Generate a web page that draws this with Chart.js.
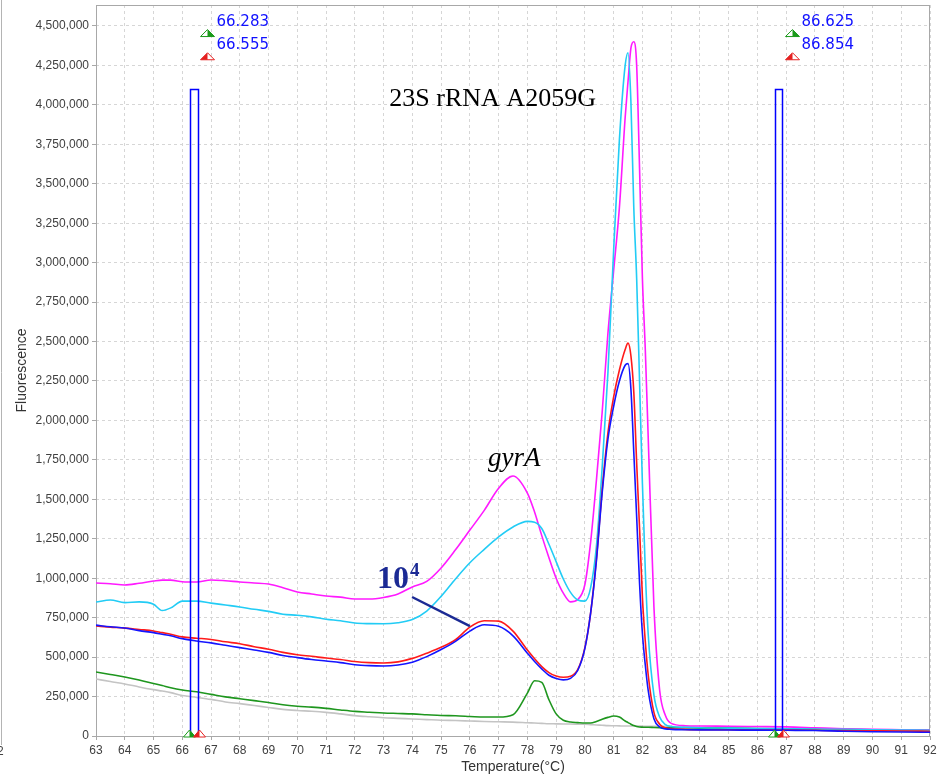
<!DOCTYPE html>
<html>
<head>
<meta charset="utf-8">
<script src="https://cdn.jsdelivr.net/npm/chart.js@4.4.1/dist/chart.umd.min.js"></script>
<style>
html, body { margin: 0; padding: 0; background: #fff; }
#wrap { width: 942px; height: 781px; }
</style>
</head>
<body>
<div id="wrap"><canvas id="meltChart" width="942" height="781"></canvas></div>
<script>
// melt curve data (temperature in °C, fluorescence units)
const temps = [63, 63.5, 64, 64.5, 65, 65.3, 65.6, 66, 66.5, 67, 67.5, 68, 68.5, 69, 69.5, 70, 70.5, 71, 71.5, 72,
  72.5, 73, 73.5, 74, 74.5, 75, 75.5, 76, 76.5, 77, 77.5, 78, 78.25, 78.5, 78.75, 79, 79.25, 79.5, 79.75, 80,
  80.2, 80.4, 80.6, 80.8, 81, 81.2, 81.4, 81.5, 81.6, 81.7, 81.8, 81.9, 82, 82.1, 82.2, 82.4, 82.6, 82.8, 83, 83.5,
  84, 85, 86, 87, 88, 89, 90, 91, 92];

const magentaVals = [970000, 965000, 957000, 968000, 982000, 988000, 988000, 978000, 976000, 989000, 984000, 976000, 970000, 963000, 940000, 913000, 900000, 887000, 880000, 868000,
  868000, 878000, 900000, 945000, 980000, 1065000, 1180000, 1305000, 1430000, 1570000, 1648000, 1540000, 1420000, 1270000, 1130000, 1000000, 905000, 850000, 865000, 960000,
  1230000, 1620000, 2050000, 2550000, 2950000, 3350000, 3920000, 4150000, 4360000, 4400000, 4250000, 3600000, 2900000, 2450000, 1900000, 820000, 290000, 130000, 80000, 65000,
  63000, 62000, 60000, 58000, 52000, 46000, 42000, 40000, 38000];

const cyanVals = [849000, 862000, 845000, 850000, 835000, 795000, 812000, 855000, 855000, 842000, 830000, 818000, 803000, 790000, 772000, 765000, 755000, 740000, 730000, 716000,
  712000, 711000, 718000, 738000, 792000, 885000, 995000, 1098000, 1183000, 1262000, 1325000, 1360000, 1355000, 1315000, 1215000, 1105000, 995000, 910000, 862000, 855000,
  940000, 1200000, 1700000, 2300000, 3080000, 3780000, 4250000, 4330000, 4020000, 3350000, 2900000, 2250000, 1600000, 1050000, 650000, 260000, 120000, 72000, 60000, 55000,
  52000, 50000, 48000, 46000, 44000, 42000, 40000, 38000, 36000];

const redVals = [697000, 690000, 684000, 675000, 666000, 655000, 645000, 628000, 620000, 612000, 597000, 585000, 566000, 550000, 530000, 515000, 505000, 494000, 485000, 472000,
  465000, 463000, 470000, 492000, 525000, 562000, 610000, 690000, 730000, 728000, 665000, 545000, 490000, 440000, 402000, 380000, 372000, 378000, 420000, 560000,
  780000, 1120000, 1560000, 1920000, 2150000, 2320000, 2450000, 2490000, 2410000, 2180000, 1730000, 1320000, 880000, 600000, 390000, 150000, 75000, 52000, 46000, 42000,
  40000, 40000, 38000, 38000, 36000, 34000, 33000, 32000, 30000];

const blueVals = [703000, 692000, 684000, 668000, 655000, 645000, 635000, 617000, 602000, 590000, 575000, 560000, 545000, 530000, 510000, 497000, 485000, 475000, 465000, 452000,
  446000, 444000, 450000, 468000, 503000, 548000, 600000, 665000, 705000, 695000, 635000, 525000, 472000, 425000, 385000, 365000, 356000, 365000, 415000, 555000,
  780000, 1110000, 1540000, 1880000, 2090000, 2250000, 2350000, 2360000, 2200000, 1800000, 1390000, 970000, 650000, 450000, 290000, 110000, 57000, 45000, 42000, 40000,
  39000, 38000, 37000, 36000, 35000, 30000, 27000, 25000, 24000];

const greenVals = [406000, 390000, 374000, 355000, 333000, 320000, 306000, 292000, 280000, 264000, 248000, 236000, 224000, 212000, 198000, 189000, 183000, 175000, 165000, 156000,
  151000, 146000, 143000, 140000, 135000, 130000, 128000, 124000, 120000, 120000, 135000, 272000, 350000, 340000, 230000, 140000, 100000, 89000, 85000, 82000,
  82000, 92000, 106000, 118000, 127000, 120000, 95000, 85000, 75000, 66000, 60000, 57000, 56000, 55000, 55000, 54000, 53000, 52000, 52000, 52000,
  50000, 50000, 48000, 46000, 44000, 42000, 40000, 38000, 36000];

const grayVals = [361000, 345000, 330000, 311000, 294000, 285000, 275000, 257000, 245000, 232000, 216000, 205000, 193000, 181000, 169000, 162000, 157000, 150000, 140000, 129000,
  122000, 116000, 112000, 108000, 104000, 100000, 98000, 95000, 92000, 90000, 88000, 84000, 82000, 80000, 78000, 77000, 76000, 76000, 75000, 74000,
  72000, 70000, 68000, 66000, 65000, 64000, 63000, 63000, 63000, 63000, 63000, 63000, 62000, 62000, 62000, 62000, 62000, 61000, 60000, 56000,
  52000, 48000, 45000, 42000, 40000, 38000, 36000, 34000, 32000];

const xTicks = [63, 64, 65, 66, 67, 68, 69, 70, 71, 72, 73, 74, 75, 76, 77, 78, 79, 80, 81, 82, 83, 84, 85, 86, 87, 88, 89, 90, 91, 92];
const yTicks = [0, 250000, 500000, 750000, 1000000, 1250000, 1500000, 1750000, 2000000, 2250000, 2500000,
  2750000, 3000000, 3250000, 3500000, 3750000, 4000000, 4250000, 4500000];

// melt region markers (start / end), green and red
const startMarks = [66.283, 66.555];
const endMarks = [86.625, 86.854];
const markTop = 4100000;

function pts(vals) {
  return temps.map((t, i) => ({ x: t, y: vals[i] }));
}

function line(vals, color) {
  return {
    data: pts(vals),
    borderColor: color,
    borderWidth: 1.6,
    pointRadius: 0,
    fill: false,
    cubicInterpolationMode: 'monotone'
  };
}

// little half-filled triangle, like the marker flags of the instrument software
function flag(ctx, cx, by, w, h, color, leftFilled) {
  ctx.beginPath();
  ctx.moveTo(cx - w / 2, by); ctx.lineTo(cx + w / 2, by); ctx.lineTo(cx, by - h); ctx.closePath();
  ctx.fillStyle = '#fff'; ctx.fill();
  ctx.beginPath();
  if (leftFilled) {
    ctx.moveTo(cx - w / 2, by); ctx.lineTo(cx, by); ctx.lineTo(cx, by - h);
  } else {
    ctx.moveTo(cx + w / 2, by); ctx.lineTo(cx, by); ctx.lineTo(cx, by - h);
  }
  ctx.closePath();
  ctx.fillStyle = color; ctx.fill();
  ctx.beginPath();
  ctx.moveTo(cx - w / 2, by); ctx.lineTo(cx + w / 2, by); ctx.lineTo(cx, by - h); ctx.closePath();
  ctx.strokeStyle = color; ctx.lineWidth = 1; ctx.stroke();
}

const frame = {
  id: 'frame',
  beforeDatasetsDraw(chart) {
    const { ctx, chartArea: a } = chart;
    ctx.save();
    ctx.strokeStyle = '#a8a8a8';
    ctx.lineWidth = 1;
    ctx.strokeRect(a.left + 0.5, a.top + 0.5, a.right - a.left - 1, a.bottom - a.top);
    ctx.restore();
  },
  afterDraw(chart) {
    const { ctx } = chart;
    // cropped edge of the neighbouring panel
    ctx.save();
    ctx.strokeStyle = '#b4b4b4';
    ctx.lineWidth = 1;
    ctx.beginPath(); ctx.moveTo(1.5, 0); ctx.lineTo(1.5, 745); ctx.stroke();
    ctx.fillStyle = '#444';
    ctx.font = '12px "Liberation Sans", Arial, sans-serif';
    ctx.textBaseline = 'middle';
    ctx.fillText('2', -3, 752);
    ctx.restore();
  }
};

const notes = {
  id: 'notes',
  afterDatasetsDraw(chart) {
    const { ctx, scales: { x, y } } = chart;
    ctx.save();

    // marker boxes and flags
    [startMarks, endMarks].forEach(m => {
      const x1 = Math.round(x.getPixelForValue(m[0])) + 0.5;
      const x2 = Math.round(x.getPixelForValue(m[1])) + 0.5;
      const yt = Math.round(y.getPixelForValue(markTop)) + 0.5;
      const yb = y.getPixelForValue(0);
      ctx.strokeStyle = '#0000ff';
      ctx.lineWidth = 1.5;
      ctx.strokeRect(x1, yt, x2 - x1, yb - yt);

      // flags on the axis
      flag(ctx, x1 - 1, yb + 1, 12, 7, '#1a9a1a', false);
      flag(ctx, x2 + 1, yb + 1, 12, 7, '#e52020', true);

      // flags + values at the top
      const fx = x1 + 17;
      flag(ctx, fx, y.getPixelForValue(4452000) + 3, 14, 7, '#1a9a1a', false);
      flag(ctx, fx, y.getPixelForValue(4305000) + 3, 14, 7, '#e52020', true);
      ctx.fillStyle = '#1010ff';
      ctx.font = '15px "DejaVu Sans", Verdana, sans-serif';
      ctx.textBaseline = 'middle';
      ctx.textAlign = 'left';
      ctx.fillText(m[0].toFixed(3), fx + 9, y.getPixelForValue(4525000));
      ctx.fillText(m[1].toFixed(3), fx + 9, y.getPixelForValue(4378000));
    });

    // text labels of the peaks
    ctx.fillStyle = '#000';
    ctx.textBaseline = 'alphabetic';
    ctx.textAlign = 'left';
    ctx.font = '26px "Liberation Serif", "Times New Roman", serif';
    ctx.fillText('23S rRNA A2059G', x.getPixelForValue(73.2), y.getPixelForValue(3990000));
    ctx.font = 'italic 27px "Liberation Serif", "Times New Roman", serif';
    ctx.fillText('gyrA', x.getPixelForValue(76.63), y.getPixelForValue(1711000));

    // 10^4 label with pointer to the blue curve
    const navy = '#1b2a94';
    const lx = x.getPixelForValue(72.77);
    const ly = y.getPixelForValue(938000);
    ctx.fillStyle = navy;
    ctx.font = 'bold 32px "Liberation Serif", "Times New Roman", serif';
    ctx.fillText('10', lx, ly);
    const w10 = ctx.measureText('10').width;
    ctx.font = 'bold 19px "Liberation Serif", "Times New Roman", serif';
    ctx.fillText('4', lx + w10 + 1, ly - 12);
    ctx.strokeStyle = navy;
    ctx.lineWidth = 2.5;
    ctx.beginPath();
    ctx.moveTo(x.getPixelForValue(73.99), y.getPixelForValue(881000));
    ctx.lineTo(x.getPixelForValue(76.0), y.getPixelForValue(697000));
    ctx.stroke();

    ctx.restore();
  }
};

const tickFont = { family: '"Liberation Sans", Arial, sans-serif', size: 12 };
const titleFont = { family: '"Liberation Sans", Arial, sans-serif', size: 14 };

new Chart(document.getElementById('meltChart'), {
  type: 'line',
  data: {
    datasets: [
      line(blueVals, '#1414ff'),
      line(redVals, '#ff1a1a'),
      line(cyanVals, '#22ccf5'),
      line(magentaVals, '#ff1aff'),
      line(greenVals, '#1e961e'),
      line(grayVals, '#c4c4c4')
    ]
  },
  options: {
    responsive: false,
    animation: false,
    layout: { padding: { left: 0, right: 12, top: 5, bottom: 0 } },
    plugins: {
      legend: { display: false },
      tooltip: { enabled: false }
    },
    scales: {
      x: {
        type: 'linear',
        min: 63,
        max: 92,
        afterBuildTicks: s => { s.ticks = xTicks.map(v => ({ value: v })); },
        afterFit: s => { s.height = 45; s.paddingLeft = 0; s.paddingRight = 0; },
        ticks: {
          autoSkip: false,
          maxRotation: 0,
          padding: 3,
          color: '#404040',
          font: tickFont,
          callback: v => String(v)
        },
        grid: { color: '#d6d6d6', lineWidth: 1, tickLength: 4, tickColor: '#a8a8a8' },
        border: { display: false, dash: [3, 3] },
        title: {
          display: true,
          text: 'Temperature(°C)',
          color: '#333',
          font: titleFont,
          padding: { top: 0, bottom: 5 }
        }
      },
      y: {
        min: 0,
        max: 4633000,
        afterBuildTicks: s => { s.ticks = yTicks.map(v => ({ value: v })); },
        afterFit: s => { s.width = 96; s.paddingTop = 0; s.paddingBottom = 0; },
        ticks: {
          padding: 3,
          color: '#404040',
          font: tickFont,
          callback: v => v.toLocaleString('en-US')
        },
        grid: { color: '#d6d6d6', lineWidth: 1, tickLength: 4, tickColor: '#a8a8a8' },
        border: { display: false, dash: [3, 3] },
        title: {
          display: true,
          text: 'Fluorescence',
          color: '#333',
          font: titleFont,
          padding: { top: 14, bottom: 0 }
        }
      }
    }
  },
  plugins: [frame, notes]
});
</script>
</body>
</html>
